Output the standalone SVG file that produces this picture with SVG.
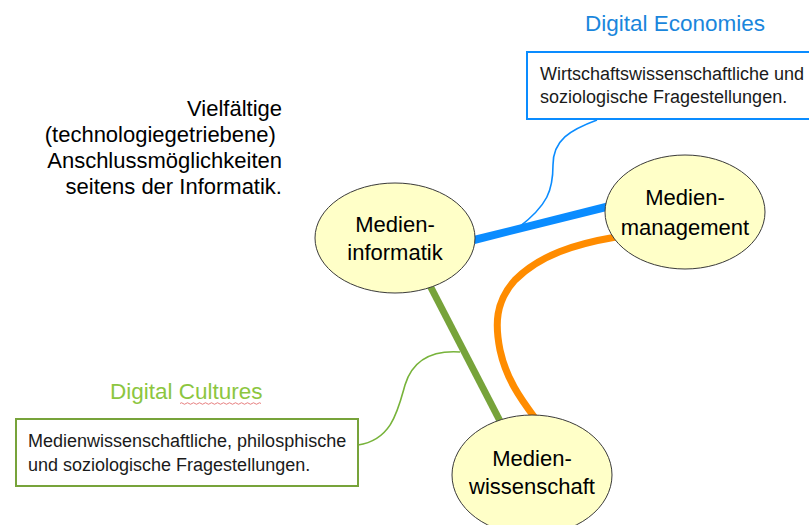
<svg xmlns="http://www.w3.org/2000/svg" width="809" height="525" viewBox="0 0 809 525">
<style>
.node ellipse{fill:#ffffc8;stroke:#3a3a3a;stroke-width:1}
.nt{font-family:"Liberation Sans",Arial,sans-serif;font-size:22px;fill:#000;text-anchor:middle}
.bt{font-family:"Liberation Sans",Arial,sans-serif;font-size:18px;fill:#1a1a1a}
.title{font-family:"Liberation Sans",Arial,sans-serif;font-size:22.5px}
.side{font-family:"Liberation Sans",Arial,sans-serif;font-size:22px;fill:#000;text-anchor:end}
.thick{fill:none;stroke-linecap:butt}
</style>
<rect width="809" height="525" fill="#fff"/>
<g id="connectors">
<path d="M597 120 C570 130 553 140 553 165 C553 190 548 205 518 228" fill="none" stroke="#0a8cff" stroke-width="1.6"/>
<path d="M358 445 C392 440 398 410 405 385 C412 362 430 350 460 352" fill="none" stroke="#77b33a" stroke-width="1.6"/>
<line class="thick" x1="470" y1="241" x2="610" y2="206" stroke="#0a8cff" stroke-width="8"/>
<line class="thick" x1="425" y1="276" x2="500" y2="421" stroke="#77a33a" stroke-width="7"/>
<path class="thick" d="M616 237 C575 244 540 255 515 280 C495 302 495 325 500 350 C506 378 520 398 535 418" stroke="#ff8c00" stroke-width="7"/>
</g>
<g id="medieninformatik" class="node">
<ellipse cx="395" cy="238" rx="80" ry="55"/>
<text class="nt" x="395" y="232">Medien-</text>
<text class="nt" x="395" y="260">informatik</text>
</g>
<g id="medienmanagement" class="node">
<ellipse cx="685" cy="212" rx="80" ry="57"/>
<text class="nt" x="685" y="205">Medien-</text>
<text class="nt" x="685" y="235">management</text>
</g>
<g id="medienwissenschaft" class="node">
<ellipse cx="532" cy="475" rx="80" ry="60"/>
<text class="nt" x="532" y="466">Medien-</text>
<text class="nt" x="532" y="494">wissenschaft</text>
</g>
<g id="digital-economies">
<text class="title" x="585" y="31" fill="#1a86dc">Digital Economies</text>
<rect x="527" y="52" width="300" height="67" fill="#fff" stroke="#0a8cff" stroke-width="2"/>
<text class="bt" x="540" y="80">Wirtschaftswissenschaftliche und</text>
<text class="bt" x="540" y="103">soziologische Fragestellungen.</text>
</g>
<g id="digital-cultures">
<text class="title" x="110" y="399" fill="#8cc63f">Digital Cultures</text>
<path d="M180 403.5 q1.5 -1.5 3 0 t3 0 t3 0 t3 0 t3 0 t3 0 t3 0 t3 0 t3 0 t3 0 t3 0 t3 0 t3 0 t3 0 t3 0 t3 0 t3 0 t3 0 t3 0 t3 0 t3 0 t3 0 t3 0 t3 0 t3 0 t3 0 t3 0" fill="none" stroke="#e06060" stroke-width="0.8"/>
<rect x="16" y="419" width="342" height="67" fill="#fff" stroke="#77a33a" stroke-width="2"/>
<text class="bt" x="28" y="447">Medienwissenschaftliche, philosphische</text>
<text class="bt" x="28" y="471">und soziologische Fragestellungen.</text>
</g>
<g id="informatik-note">
<text class="side" x="282" y="116">Vielfältige</text>
<text class="side" x="282" y="142">(technologiegetriebene)&#160;</text>
<text class="side" x="282" y="168">Anschlussmöglichkeiten</text>
<text class="side" x="282" y="194">seitens der Informatik.</text>
</g>
</svg>
